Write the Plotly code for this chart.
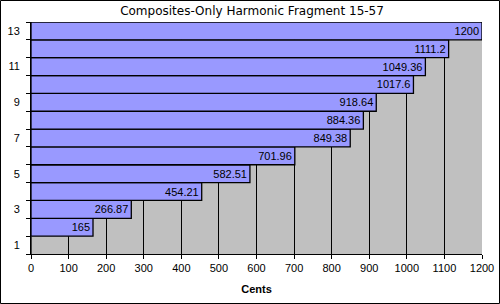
import plotly.graph_objects as go

categories = [1, 2, 3, 4, 5, 6, 7, 8, 9, 10, 11, 12, 13]
cents = [0, 165, 266.87, 454.21, 582.51, 701.96, 849.38, 884.36, 918.64, 1017.6, 1049.36, 1111.2, 1200]
labels = ["", "165", "266.87", "454.21", "582.51", "701.96", "849.38", "884.36", "918.64", "1017.6", "1049.36", "1111.2", "1200"]
y_ticks = [1, 3, 5, 7, 9, 11, 13]
x_ticks = list(range(0, 1201, 100))

W, H = 500, 304
L, R, T, B = 31, 18, 22, 50
pw, ph = W - L - R, H - T - B
FONT = "Liberation Sans, Arial"

fig = go.Figure()
fig.add_trace(go.Bar(
    x=cents, y=categories, orientation="h",
    width=1.0,
    marker=dict(color="#9999FF", line=dict(color="black", width=1.3)),
    text=labels, textposition="inside", insidetextanchor="end",
    textfont=dict(family=FONT, size=11, color="black"),
    constraintext="none", cliponaxis=False, hoverinfo="skip",
))

fig.update_layout(
    width=W, height=H,
    margin=dict(l=L, r=R, t=T, b=B, pad=0, autoexpand=False),
    paper_bgcolor="white", plot_bgcolor="#C0C0C0",
    showlegend=False, bargap=0,
    title=dict(text="Composites-Only Harmonic Fragment 15-57", x=252 / W, xanchor="center",
               y=1 - 11 / H, yanchor="middle",
               font=dict(family="Verdana, DejaVu Sans", size=12, color="black")),
    font=dict(family=FONT, size=11, color="black"),
    xaxis=dict(range=[0, 1200], tickvals=x_ticks, showgrid=True, gridcolor="black", gridwidth=1,
               ticks="outside", ticklen=4, tickcolor="black", showline=True, linecolor="black",
               linewidth=1, zeroline=False, automargin=False,
               title=dict(text="<b>Cents</b>", standoff=12,
                          font=dict(family=FONT, size=11, color="black"))),
    yaxis=dict(range=[0.5, 13.5], tickvals=y_ticks, ticks="", showgrid=False, zeroline=False,
               showline=True, linecolor="black", linewidth=1, ticklabelstandoff=8,
               automargin=False,
               minor=dict(tickvals=[i + 0.5 for i in range(0, 14)], ticks="outside", ticklen=4,
                          tickcolor="black", showgrid=False)),
    shapes=[dict(type="rect", xref="paper", yref="paper",
                 x0=(0.5 - L) / pw, x1=1 + (R - 0.5) / pw,
                 y0=-(B - 0.5) / ph, y1=1 + (T - 0.5) / ph,
                 line=dict(color="black", width=1), layer="above")],
)

fig.write_html("out.html", config={"displayModeBar": False, "staticPlot": True},
               post_script="document.body.style.margin='0';document.body.style.overflow='hidden';")
